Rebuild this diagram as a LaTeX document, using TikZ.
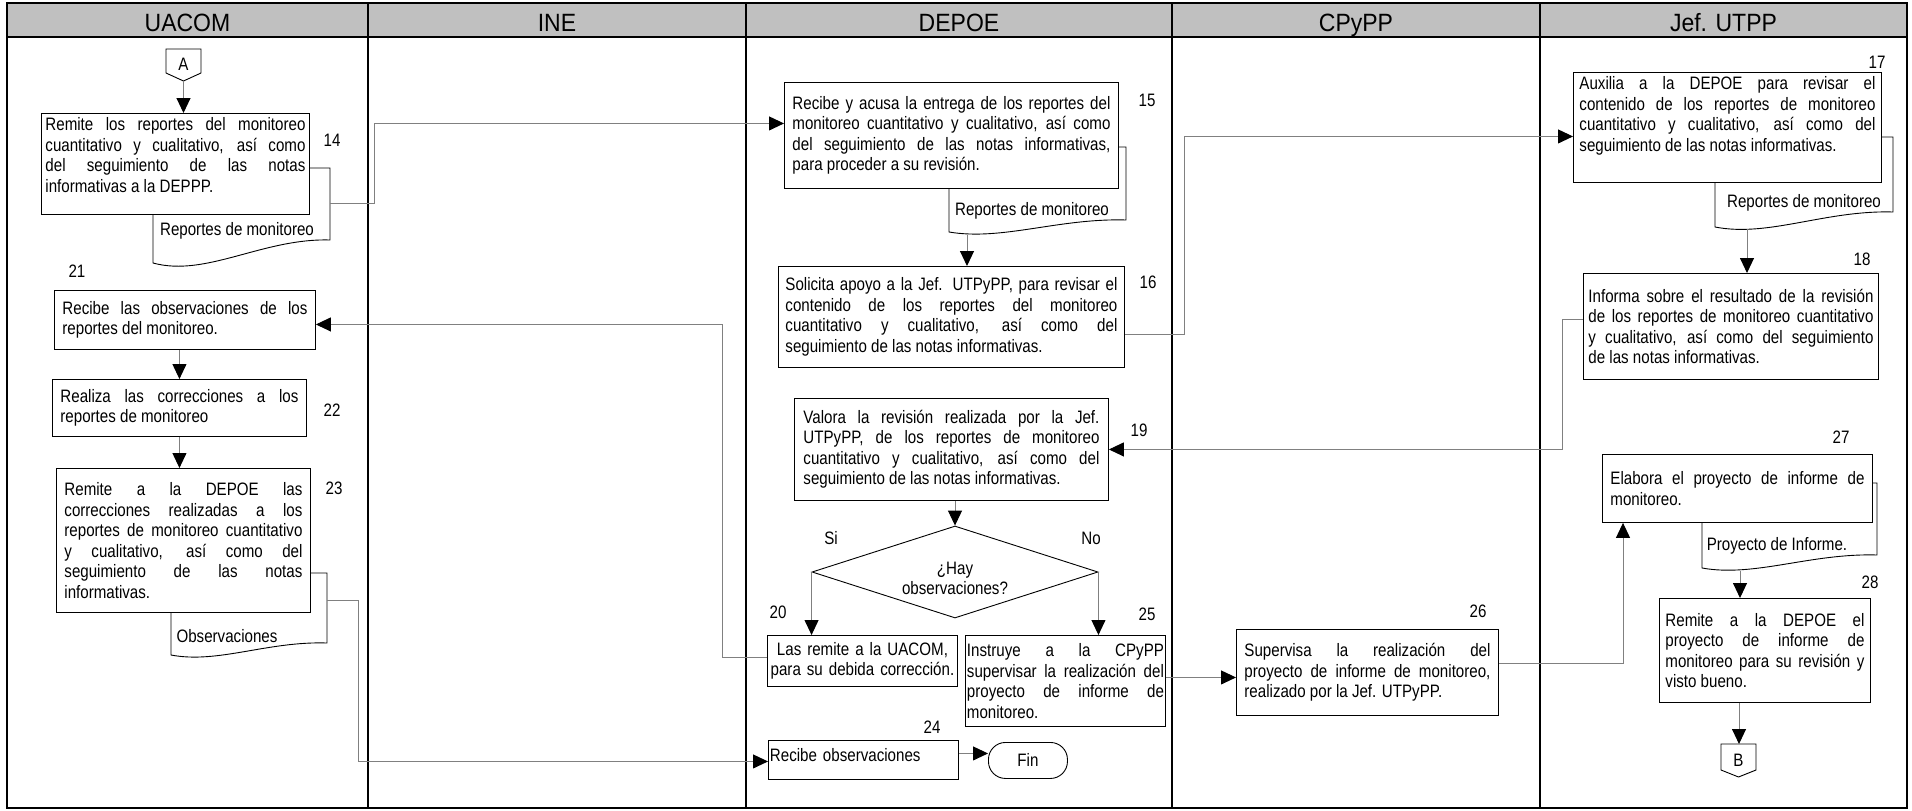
\documentclass[tikz,border=0pt]{standalone}
\usepackage{fontspec}
\setmainfont{Liberation Sans}[FakeStretch=0.84]
\newfontfamily\hdrfont{Liberation Sans}[FakeStretch=0.92]
\usetikzlibrary{arrows.meta,shapes.geometric}
\definecolor{hdrgray}{RGB}{192,192,192}
\definecolor{lnk}{RGB}{128,128,128}
\setlength{\parindent}{0pt}
\tolerance=10000 \hyphenpenalty=10000 \exhyphenpenalty=10000 \hbadness=10000
\newcommand\padb[1]{\rule[-#1]{0pt}{#1}}
\newcommand\docshape[5]{%
  \draw[docst] (#1,#3) -- (#2,#3) -- (#2,#4) .. controls ({#1+0.62*(#2-#1)},{#4-2}) and ({#1+0.3*(#2-#1)},{#5+0.5*(#5-#4)+3}) .. (#1,#5) -- cycle;}
\tikzset{
  body/.style={font=\fontsize{18}{20.5}\selectfont},
  proc/.style={body, draw=black, line width=0.9pt, fill=white, anchor=north west, inner ysep=0pt, align=justify},
  lbl/.style={body, inner sep=0pt},
  hdrtext/.style={font=\hdrfont\fontsize{25}{29}\selectfont, inner sep=0pt, anchor=base},
  conn/.style={draw=lnk, line width=1pt, -{Triangle[length=15pt,width=14pt,color=black]}},
  docst/.style={draw=black, line width=0.9pt, fill=white},
  lane/.style={line width=2.6pt, draw=black},
  offpage/.style={draw=black, line width=0.9pt, fill=white}
}
\begin{document}
\begin{tikzpicture}[x=1pt,y=-1pt]
\useasboundingbox (0,0) rectangle (1912,811);
% frame and lanes
\fill[hdrgray] (7,3) rectangle (1907,37);
\draw[lane] (7,37) -- (1907,37);
\foreach \x in {368,746,1172,1540} \draw[lane] (\x,3) -- (\x,808);
\draw[lane] (7,3) rectangle (1907,808);
\node[hdrtext] (hUACOM) at (187.5,31) {UACOM};
\node[hdrtext] (hINE) at (557,31) {INE};
\node[hdrtext] (hDEPOE) at (959,31) {DEPOE};
\node[hdrtext] (hCPyPP) at (1356,31) {CPyPP};
\node[hdrtext] (hJef) at (1723.5,31) {Jef. UTPP};

% off-page connectors
\draw[offpage] (166,49) -- (201,49) -- (201,73) -- (183.5,81) -- (166,73) -- cycle;
\node[lbl] (A) at (183.5,64) {A};
\coordinate (Atip) at (183.5,81);
\draw[offpage] (1721,744) -- (1756,744) -- (1756,770) -- (1738.5,777) -- (1721,770) -- cycle;
\node[lbl] (B) at (1738.5,760) {B};
\coordinate (Btop) at (1739,744);

% documents
\docshape{153}{330}{168}{240}{263}
\node[lbl] (d14) at (237,231) {Reportes de monitoreo};
\coordinate (d14r) at (330,203);
\docshape{171}{327}{573}{643}{655}
\node[lbl] (dobs) at (227,636) {Observaciones};
\coordinate (dobsr) at (327,600);
\docshape{949}{1126}{147}{220}{232}
\node[lbl] (d15) at (1032,211) {Reportes de monitoreo};
\coordinate (d15b) at (967,235);
\docshape{1715}{1893}{137}{212}{227}
\node[lbl] (d17) at (1804,203) {Reportes de monitoreo};
\coordinate (d17b) at (1747,229);
\docshape{1702}{1877}{483}{555}{568}
\node[lbl] (d27) at (1777,546) {Proyecto de Informe.};
\coordinate (d27b) at (1740,571);

% UACOM boxes
\node[proc, inner xsep=4pt, text width=260pt, minimum height=101pt] (b14) at (41,113)
 {Remite los reportes del monitoreo\linebreak cuantitativo y cualitativo, así como\linebreak del seguimiento de las notas\linebreak informativas a la DEPPP.\padb{18pt}};
\node[proc, inner xsep=8pt, text width=245pt, minimum height=59pt] (b21) at (54,290)
 {Recibe las observaciones de los\linebreak reportes del monitoreo.};
\node[proc, inner xsep=8pt, text width=238pt, minimum height=57pt] (b22) at (52,379)
 {Realiza las correcciones a los\linebreak reportes de monitoreo};
\node[proc, inner xsep=8pt, text width=238pt, minimum height=144pt] (b23) at (56,468)
 {Remite a la DEPOE las\linebreak correcciones realizadas a los\linebreak reportes de monitoreo cuantitativo\linebreak y cualitativo, así como del\linebreak seguimiento de las notas\linebreak informativas.};

% DEPOE boxes
\node[proc, inner xsep=8pt, text width=318pt, minimum height=106pt] (b15) at (784,82)
 {Recibe y acusa la entrega de los reportes del\linebreak monitoreo cuantitativo y cualitativo, así como\linebreak del seguimiento de las notas informativas,\linebreak para proceder a su revisión.};
\node[proc, inner xsep=7pt, text width=332pt, minimum height=101pt] (b16) at (778,266)
 {Solicita apoyo a la Jef. UTPyPP, para revisar el\linebreak contenido de los reportes del monitoreo\linebreak cuantitativo y cualitativo, así como del\linebreak seguimiento de las notas informativas.};
\node[proc, inner xsep=9pt, text width=296pt, minimum height=102pt] (b19) at (794,398)
 {Valora la revisión realizada por la Jef.\linebreak UTPyPP, de los reportes de monitoreo\linebreak cuantitativo y cualitativo, así como del\linebreak seguimiento de las notas informativas.};
\node[body, diamond, draw=black, line width=0.9pt, fill=white, aspect=3.1, minimum width=286pt, minimum height=92pt, inner sep=0pt, align=center] (dia) at (955,572)
 {\rule{0pt}{25pt}¿Hay\\observaciones?};
\node[proc, inner xsep=3pt, text width=184pt, minimum height=51pt, align=center] (b20) at (767,635)
 {Las remite a la UACOM,\\para su debida corrección.};
\node[proc, inner xsep=1.5pt, text width=197pt, minimum height=91pt] (b25) at (965,635)
 {Instruye a la CPyPP\linebreak supervisar la realización del\linebreak proyecto de informe de\linebreak monitoreo.};
\node[proc, inner xsep=1.5pt, text width=187pt, minimum height=39pt, align=left] (b24) at (768,740)
 {Recibe observaciones\padb{10pt}};
\node[body, draw=black, line width=0.9pt, fill=white, rounded corners=17pt, minimum width=79pt, minimum height=36pt, anchor=north west, inner sep=0pt] (fin) at (988,742) {Fin};

% CPyPP box
\node[proc, inner xsep=8pt, text width=246pt, minimum height=86pt] (b26) at (1236,629)
 {Supervisa la realización del\linebreak proyecto de informe de monitoreo,\linebreak realizado por la Jef. UTPyPP.};

% Jef. UTPP boxes
\node[proc, inner xsep=6pt, text width=296pt, minimum height=110pt] (b17) at (1573,72)
 {Auxilia a la DEPOE para revisar el\linebreak contenido de los reportes de monitoreo\linebreak cuantitativo y cualitativo, así como del\linebreak seguimiento de las notas informativas.\padb{27pt}};
\node[proc, inner xsep=5pt, text width=285pt, minimum height=106pt] (b18) at (1583,273)
 {Informa sobre el resultado de la revisión\linebreak de los reportes de monitoreo cuantitativo\linebreak y cualitativo, así como del seguimiento\linebreak de las notas informativas.};
\node[proc, inner xsep=8pt, text width=254pt, minimum height=68pt] (b27) at (1602,454)
 {Elabora el proyecto de informe de\linebreak monitoreo.};
\node[proc, inner xsep=6pt, text width=199pt, minimum height=104pt] (b28) at (1659,598)
 {Remite a la DEPOE el\linebreak proyecto de informe de\linebreak monitoreo para su revisión y\linebreak visto bueno.};

% step numbers and labels
\node[lbl] (n14) at (332,140) {14};
\node[lbl] (n15) at (1147,100) {15};
\node[lbl] (n16) at (1148,282) {16};
\node[lbl] (n17) at (1877,62) {17};
\node[lbl] (n18) at (1862,259) {18};
\node[lbl] (n19) at (1139,430) {19};
\node[lbl] (n20) at (778,612) {20};
\node[lbl] (n21) at (77,271) {21};
\node[lbl] (n22) at (332,410) {22};
\node[lbl] (n23) at (334,488) {23};
\node[lbl] (n24) at (932,727) {24};
\node[lbl] (n25) at (1147,614) {25};
\node[lbl] (n26) at (1478,611) {26};
\node[lbl] (n27) at (1841,437) {27};
\node[lbl] (n28) at (1870,582) {28};
\node[lbl] (si) at (831,538) {Si};
\node[lbl] (no) at (1091,538) {No};

% connectors
\draw[conn] (Atip) -- (Atip |- b14.north);
\draw[conn] (d14r) -- ++(44,0) |- ([yshift=12pt]b15.west);
\draw[conn] (d15b) -- (d15b |- b16.north);
\draw[conn] ([yshift=-17.5pt]b16.east) -- ++(60,0) |- ([yshift=-9pt]b17.west);
\draw[conn] (d17b) -- (d17b |- b18.north);
\draw[conn] ([yshift=7pt]b18.west) -- ++(-21,0) |- (b19.east);
\draw[conn] (dia.north |- b19.south) -- (dia.north);
\draw[conn] (dia.west) -- (dia.west |- b20.north);
\draw[conn] (dia.east) -- (dia.east |- b25.north);
\draw[conn] ([yshift=3.5pt]b20.west) -- ++(-45,0) |- ([yshift=-4.5pt]b21.east);
\draw[conn] (b22.north |- b21.south) -- (b22.north);
\draw[conn] (b22.south) -- (b22.south |- b23.north);
\draw[conn] (dobsr) -- ++(31,0) |- ([yshift=-1.5pt]b24.west);
\draw[conn] ([yshift=6.5pt]b24.east) -- ([yshift=7pt]fin.west);
\draw[conn] ([yshift=3.5pt]b25.east) -- ([yshift=-5pt]b26.west);
\draw[conn] ([yshift=9pt]b26.east) -| ([xshift=21pt]b27.south west);
\draw[conn] (d27b) -- (d27b |- b28.north);
\draw[conn] (Btop |- b28.south) -- (Btop);
\end{tikzpicture}
\end{document}
